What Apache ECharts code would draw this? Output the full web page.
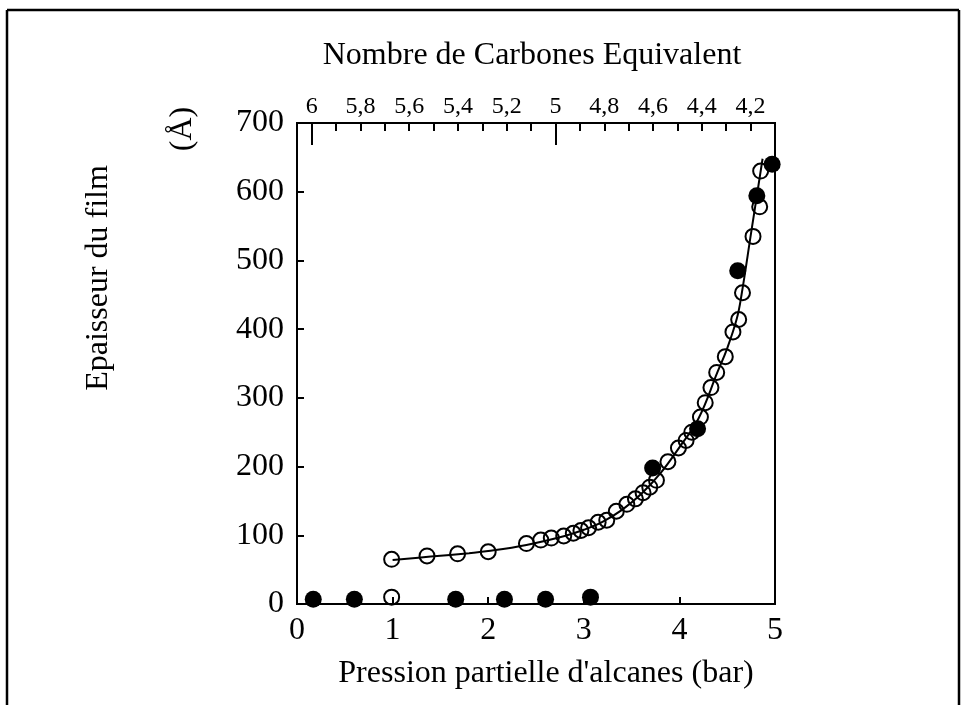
<!DOCTYPE html>
<html>
<head>
<meta charset="utf-8">
<script src="https://cdn.jsdelivr.net/npm/echarts@6/dist/echarts.min.js"></script>
<style>
html,body{margin:0;padding:0;background:#fff;}
#chart{width:971px;height:705px;}
</style>
</head>
<body>
<div id="chart"></div>
<script>
// Open circles: pressure (bar), thickness (Å)
var openX = [0.99, 0.99, 1.36, 1.68, 2.00, 2.40, 2.55, 2.66, 2.79, 2.89, 2.97, 3.05, 3.15, 3.24, 3.34, 3.45, 3.54, 3.62, 3.69, 3.76, 3.88, 3.99, 4.07, 4.13, 4.22, 4.27, 4.33, 4.39, 4.48, 4.56, 4.62, 4.66, 4.77, 4.84, 4.85];
var openY = [10, 65, 70, 73, 76, 88, 93, 96, 99, 103, 107, 111, 119, 122, 135, 145, 153, 162, 170, 180, 207, 227, 238, 250, 272, 293, 315, 337, 360, 396, 414, 453, 535, 578, 630];
// Filled circles
var filledX = [0.17, 0.60, 1.66, 2.17, 2.60, 3.07, 3.72, 4.19, 4.61, 4.81, 4.97];
var filledY = [7, 7, 7, 7, 7, 10, 198, 255, 485, 594, 640];
// Fitted curve
var fitX = [1.0, 1.4, 1.8, 2.0, 2.4, 2.8, 3.0, 3.2, 3.4, 3.6, 3.8, 4.0, 4.2, 4.4, 4.5, 4.6, 4.65, 4.75, 4.87];
var fitY = [64, 69, 74, 77, 86, 99, 108, 120, 137, 160, 190, 228, 270, 338, 372, 415, 450, 540, 648];
// Axis ticks
var xTicks = [0, 1, 2, 3, 4, 5];
var yTicks = [0, 100, 200, 300, 400, 500, 600, 700];
var topLabels = [6, 5.8, 5.6, 5.4, 5.2, 5, 4.8, 4.6, 4.4, 4.2];
var topMajorTicks = [6, 5];
var topMin = 4.1, topMax = 6.06, topMinorStep = 0.1;

var FONT = "'Liberation Serif','Times New Roman',serif";
function zip(a, b) { return a.map(function (v, i) { return [v, b[i]]; }); }

var chart = echarts.init(document.getElementById('chart'), null, {renderer: 'canvas'});
var axisLineStyle = {show: true, onZero: false, lineStyle: {color: '#000', width: 2}};
var noLine = {show: false, onZero: false};
var tickLine = {color: '#000', width: 2};
var option = {
  animation: false,
  backgroundColor: '#fff',
  grid: {left: 297, right: 196, top: 123, bottom: 101, show: true, borderColor: '#000', borderWidth: 2, backgroundColor: 'transparent'},
  xAxis: [
    {
      type: 'value', position: 'bottom', min: 0, max: 5, interval: 1,
      axisLine: axisLineStyle,
      axisTick: {show: true, inside: true, length: 7, lineStyle: tickLine},
      axisLabel: {color: '#000', fontFamily: FONT, fontSize: 32, margin: 11},
      splitLine: {show: false}
    },
    {
      // top axis: minor ticks every 0.1
      type: 'value', position: 'top', inverse: true, min: topMin, max: topMax, interval: topMinorStep,
      axisLine: axisLineStyle,
      axisTick: {show: true, inside: true, length: 8, lineStyle: tickLine},
      axisLabel: {show: false},
      splitLine: {show: false}
    },
    {
      // top axis: labels
      type: 'value', position: 'top', inverse: true, min: topMin, max: topMax,
      axisLine: noLine,
      axisTick: {show: false},
      axisLabel: {color: '#000', fontFamily: FONT, fontSize: 24, margin: 4, customValues: topLabels,
        formatter: function (v) { return String(Math.round(v * 10) / 10).replace('.', ','); }},
      splitLine: {show: false}
    },
    {
      // top axis: major ticks
      type: 'value', position: 'top', inverse: true, min: topMin, max: topMax,
      axisLine: noLine,
      axisTick: {show: true, inside: true, length: 22, lineStyle: tickLine, customValues: topMajorTicks},
      axisLabel: {show: false},
      splitLine: {show: false}
    }
  ],
  yAxis: [
    {
      type: 'value', position: 'left', min: 0, max: 700, interval: 100,
      axisLine: axisLineStyle,
      axisTick: {show: true, inside: true, length: 7, lineStyle: tickLine},
      axisLabel: {color: '#000', fontFamily: FONT, fontSize: 32, margin: 13},
      splitLine: {show: false}
    },
    {
      type: 'value', position: 'right', min: 0, max: 700,
      axisLine: axisLineStyle, axisTick: {show: false}, axisLabel: {show: false}, splitLine: {show: false}
    }
  ],
  graphic: [
    {type: 'line', shape: {x1: 7, y1: 10, x2: 959, y2: 10}, style: {stroke: '#000', lineWidth: 2.5}},
    {type: 'line', shape: {x1: 7, y1: 10, x2: 7, y2: 705}, style: {stroke: '#000', lineWidth: 2.5}},
    {type: 'line', shape: {x1: 959, y1: 10, x2: 959, y2: 705}, style: {stroke: '#000', lineWidth: 2.5}},
    {type: 'text', x: 532, y: 56, style: {text: 'Nombre de Carbones Equivalent', font: '32px ' + FONT, fill: '#000', textAlign: 'center', textVerticalAlign: 'middle'}},
    {type: 'text', x: 546, y: 674, style: {text: "Pression partielle d'alcanes (bar)", font: '32px ' + FONT, fill: '#000', textAlign: 'center', textVerticalAlign: 'middle'}},
    {type: 'text', x: 99, y: 278, rotation: Math.PI / 2, style: {text: 'Epaisseur du film', font: '32px ' + FONT, fill: '#000', textAlign: 'center', textVerticalAlign: 'middle'}},
    {type: 'text', x: 183, y: 129, rotation: Math.PI / 2, style: {text: '(Å)', font: '32px ' + FONT, fill: '#000', textAlign: 'center', textVerticalAlign: 'middle'}}
  ],
  series: [
    {
      type: 'line', name: 'fit', xAxisIndex: 0, yAxisIndex: 0, data: zip(fitX, fitY), smooth: 0.4,
      symbol: 'none', lineStyle: {color: '#000', width: 2}, z: 1
    },
    {
      type: 'scatter', name: 'open', xAxisIndex: 0, yAxisIndex: 0, data: zip(openX, openY),
      symbol: 'circle', symbolSize: 15,
      itemStyle: {color: 'rgba(0,0,0,0)', borderColor: '#000', borderWidth: 2, opacity: 1}, z: 2
    },
    {
      type: 'scatter', name: 'filled', xAxisIndex: 0, yAxisIndex: 0, data: zip(filledX, filledY),
      symbol: 'circle', symbolSize: 17,
      itemStyle: {color: '#000', opacity: 1}, z: 3
    }
  ]
};
chart.setOption(option);
</script>
</body>
</html>
